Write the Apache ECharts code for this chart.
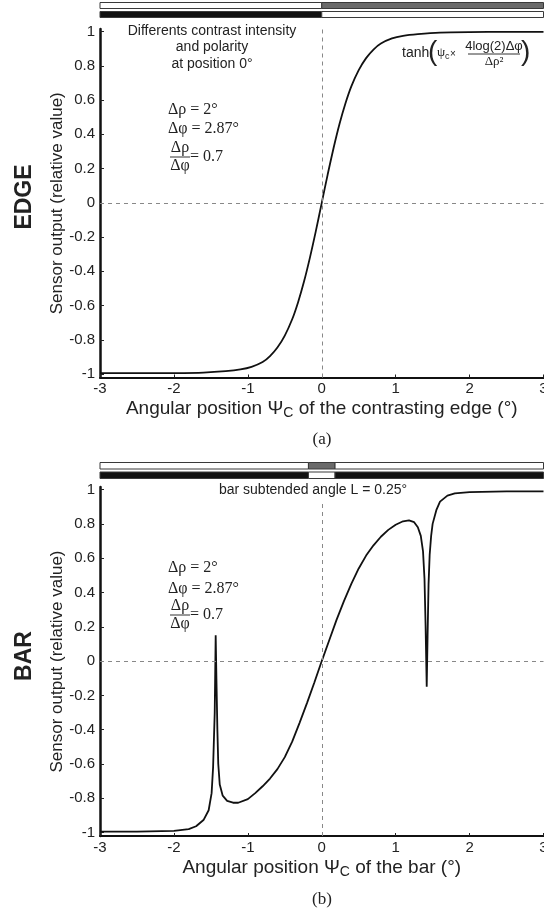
<!DOCTYPE html>
<html>
<head>
<meta charset="utf-8">
<script src="https://cdn.jsdelivr.net/npm/echarts@6/dist/echarts.min.js"></script>
<style>
  html, body { margin: 0; padding: 0; background: #fff; }
  #chart { width: 544px; height: 912px; }
</style>
</head>
<body>
<div id="chart"></div>
<script>
// tick labels
const xTicks = [-3, -2, -1, 0, 1, 2, 3]
const yTicks = [-1, -0.8, -0.6, -0.4, -0.2, 0, 0.2, 0.4, 0.6, 0.8, 1]

// (a) edge response
const edgeX = [-3, -2.5, -2, -1.6, -1.3, -1.1, -0.95, -0.8, -0.7, -0.6, -0.5, -0.4, -0.32, -0.24, -0.16, -0.08, 0,
  0.08, 0.16, 0.24, 0.32, 0.4, 0.5, 0.6, 0.7, 0.8, 0.95, 1.1, 1.3, 1.6, 2, 2.5, 3]
const edgeY = [-0.995, -0.995, -0.994, -0.991, -0.983, -0.973, -0.958, -0.93, -0.895, -0.845, -0.775, -0.68, -0.58, -0.46, -0.32, -0.165, 0,
  0.165, 0.32, 0.46, 0.58, 0.68, 0.775, 0.845, 0.895, 0.93, 0.96, 0.975, 0.985, 0.994, 0.997, 0.998, 0.998]

// (b) bar response
const barX = [-3, -2.5, -2, -1.8, -1.7, -1.6, -1.53, -1.49, -1.47, -1.448, -1.435, -1.425, -1.412, -1.4, -1.38, -1.34, -1.28, -1.2, -1.13,
  -1, -0.9, -0.8, -0.7, -0.6, -0.5, -0.4, -0.3, -0.2, -0.1, 0,
  0.1, 0.2, 0.3, 0.4, 0.5, 0.6, 0.7, 0.8, 0.9, 1, 1.1, 1.18, 1.25, 1.3, 1.34, 1.37, 1.39, 1.405, 1.42,
  1.432, 1.445, 1.46, 1.48, 1.5, 1.55, 1.6, 1.7, 1.8, 2, 2.5, 3]
const barY = [-0.995, -0.994, -0.99, -0.98, -0.963, -0.927, -0.87, -0.77, -0.62, -0.3, 0.15, -0.1, -0.4, -0.6, -0.72, -0.785, -0.815, -0.826, -0.826,
  -0.805, -0.77, -0.73, -0.685, -0.63, -0.56, -0.47, -0.36, -0.245, -0.125, 0,
  0.12, 0.24, 0.35, 0.45, 0.54, 0.615, 0.675, 0.725, 0.765, 0.795, 0.815, 0.82, 0.81, 0.78, 0.73, 0.64, 0.48, 0.2, -0.15,
  0.15, 0.45, 0.62, 0.73, 0.8, 0.88, 0.93, 0.965, 0.978, 0.985, 0.99, 0.99]

// stimulus stripes: [from, to, darkness]
const edgeStripeUpper = [[-3, 0, 0], [0, 3, 0.5]]
const edgeStripeLower = [[-3, 0, 1], [0, 3, 0]]
const barStripeUpper = [[-3, -0.18, 0], [-0.18, 0.18, 0.5], [0.18, 3, 0]]
const barStripeLower = [[-3, -0.18, 1], [-0.18, 0.18, 0], [0.18, 3, 1]]

const SANS = '"Liberation Sans", Arial, sans-serif'
const SERIF = '"Liberation Serif", "Times New Roman", serif'

const chart = echarts.init(document.getElementById('chart'))

const toPairs = (xs, ys) => xs.map((x, i) => [x, ys[i]])
const stripeData = (upper, lower) =>
  upper.map(s => [s[0], s[1], 1, s[2]]).concat(lower.map(s => [s[0], s[1], 0, s[2]]))

const renderStripe = (params, api) => {
  const p0 = api.coord([api.value(0), api.value(2) + 1])
  const p1 = api.coord([api.value(1), api.value(2)])
  const d = api.value(3)
  const fill = d >= 1 ? '#111' : (d > 0 ? '#6a6a6a' : '#fff')
  return {
    type: 'rect',
    shape: { x: p0[0], y: p0[1] + 1.5, width: p1[0] - p0[0], height: p1[1] - p0[1] - 3 },
    style: { fill: fill, stroke: '#3a3a3a', lineWidth: 1 }
  }
}

const mainY = (gridIndex) => ({
  type: 'value', gridIndex: gridIndex, min: -1.02, max: 1.015,
  name: 'Sensor output (relative value)', nameLocation: 'middle', nameGap: 34, nameMoveOverlap: false,
  nameTextStyle: { fontFamily: SANS, fontSize: 17, color: '#222' },
  axisLine: { show: true, onZero: false, lineStyle: { color: '#111', width: 2.5 } },
  axisTick: { show: true, inside: true, length: 4, customValues: yTicks, lineStyle: { color: '#222' } },
  axisLabel: { customValues: yTicks, formatter: v => String(v), fontFamily: SANS, fontSize: 15, color: '#222', margin: 5 },
  splitLine: { show: false }
})

const mainX = (gridIndex, label) => ({
  type: 'value', gridIndex: gridIndex, min: -3, max: 3, interval: 1,
  name: label, nameLocation: 'middle', nameGap: 20, nameMoveOverlap: false,
  nameTextStyle: {
    fontFamily: SANS, fontSize: 19, color: '#222',
    rich: { psi: { fontFamily: SANS, fontSize: 19, color: '#222' }, sub: { fontFamily: SANS, fontSize: 14, color: '#222', padding: [9, 0, 0, 0] } }
  },
  axisLine: { show: true, onZero: false, lineStyle: { color: '#111', width: 2 } },
  axisTick: { show: true, inside: true, length: 3, lineStyle: { color: '#222' } },
  axisLabel: { fontFamily: SANS, fontSize: 15, color: '#222', margin: 4 },
  splitLine: { show: false }
})

const hiddenAxis = (gridIndex, min, max) => ({ type: 'value', gridIndex: gridIndex, min: min, max: max, show: false })

const guideLines = (yTop) => ({
  silent: true, symbol: 'none', label: { show: false },
  lineStyle: { color: '#888', type: [4, 4], width: 1 },
  data: [
    [{ coord: [-3, 0] }, { coord: [3, 0] }],
    [{ coord: [0, -1.02] }, { coord: [0, yTop] }]
  ]
})

const txt = (text, x, y, font, align, extra) => Object.assign({
  type: 'text', x: x, y: y, silent: true,
  style: { text: text, x: 0, y: 0, font: font, fill: '#222', align: align || 'left', verticalAlign: 'middle', textAlign: align || 'left', textVerticalAlign: 'middle' }
}, extra || {})
const hline = (x1, x2, y) => ({ type: 'line', silent: true, shape: { x1: x1, y1: y, x2: x2, y2: y }, style: { stroke: '#333', lineWidth: 1 } })

const ratioBlock = (x, y0, dy1, dy2) => [
  txt('Δρ = 2°', x, y0, '16px ' + SERIF),
  txt('Δφ = 2.87°', x, y0 + dy1, '16px ' + SERIF),
  txt('Δρ', x + 12, y0 + dy2 - 8, '16px ' + SERIF, 'center'),
  hline(x + 2, x + 22, y0 + dy2 + 1),
  txt('Δφ', x + 12, y0 + dy2 + 10, '16px ' + SERIF, 'center'),
  txt('= 0.7', x + 22, y0 + dy2 + 1, '16px ' + SERIF)
]

const gridBase = { left: 100, right: 0.5, outerBoundsMode: 'none', containLabel: false }

const option = {
  backgroundColor: '#fff',
  animation: false,
  grid: [
    Object.assign({ top: 29, height: 348.5 }, gridBase),
    Object.assign({ top: 487, height: 349 }, gridBase),
    Object.assign({ top: 1, height: 18 }, gridBase),
    Object.assign({ top: 461, height: 19 }, gridBase)
  ],
  xAxis: [
    mainX(0, 'Angular position {psi|Ψ}{sub|C} of the contrasting edge (°)'),
    mainX(1, 'Angular position {psi|Ψ}{sub|C} of the bar (°)'),
    hiddenAxis(2, -3, 3),
    hiddenAxis(3, -3, 3)
  ],
  yAxis: [mainY(0), mainY(1), hiddenAxis(2, 0, 2), hiddenAxis(3, 0, 2)],
  series: [
    {
      type: 'line', xAxisIndex: 0, yAxisIndex: 0, data: toPairs(edgeX, edgeY),
      showSymbol: false, smooth: 0.25, lineStyle: { color: '#111', width: 1.8 },
      markLine: guideLines(1.015)
    },
    {
      type: 'line', xAxisIndex: 1, yAxisIndex: 1, data: toPairs(barX, barY),
      showSymbol: false, smooth: false, lineStyle: { color: '#111', width: 1.8 },
      markLine: guideLines(0.93)
    },
    { type: 'custom', xAxisIndex: 2, yAxisIndex: 2, data: stripeData(edgeStripeUpper, edgeStripeLower), renderItem: renderStripe, silent: true },
    { type: 'custom', xAxisIndex: 3, yAxisIndex: 3, data: stripeData(barStripeUpper, barStripeLower), renderItem: renderStripe, silent: true }
  ],
  graphic: [
    txt('EDGE', 25, 197, 'bold 23px ' + SANS, 'center', { rotation: Math.PI / 2 }),
    txt('BAR', 25, 656, 'bold 23px ' + SANS, 'center', { rotation: Math.PI / 2 }),
    txt('Differents contrast intensity', 212, 31, '14px ' + SANS, 'center'),
    txt('and polarity', 212, 47, '14px ' + SANS, 'center'),
    txt('at position 0°', 212, 64, '14px ' + SANS, 'center'),
    txt('bar subtended angle L = 0.25°', 313, 490, '14px ' + SANS, 'center'),
    txt('(a)', 322, 440, '17px ' + SERIF, 'center'),
    txt('(b)', 322, 900, '17px ' + SERIF, 'center'),
    // formula
    txt('tanh', 402, 53, '14px ' + SANS),
    txt('(', 428, 52, '28px ' + SANS),
    txt('ψ', 437, 53, '13px ' + SERIF),
    txt('c', 445, 57, '9px ' + SANS),
    txt('×', 450, 54, '10px ' + SANS),
    txt('4log(2)Δφ', 494, 46, '13px ' + SANS, 'center'),
    hline(468, 520, 54),
    txt('Δρ²', 494, 62, '13px ' + SERIF, 'center'),
    txt(')', 521, 52, '28px ' + SANS)
  ].concat(ratioBlock(168, 110, 19, 46)).concat(ratioBlock(168, 568, 21, 46))
}

option && chart.setOption(option)
</script>
</body>
</html>
